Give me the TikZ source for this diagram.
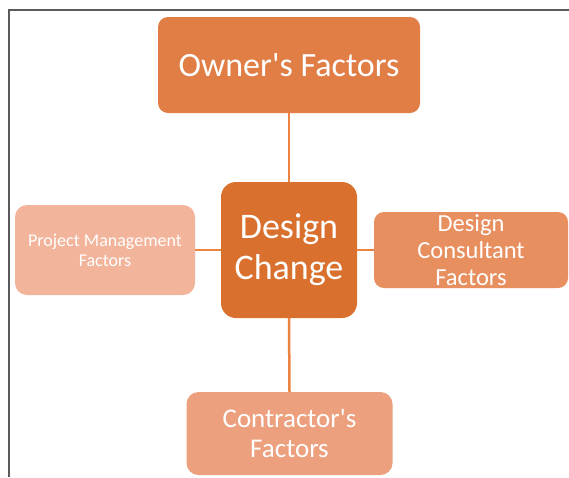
\documentclass[tikz,border=0pt]{standalone}
\usepackage{fontspec}
\setmainfont{Carlito}
\definecolor{cOwner}{HTML}{E07E45}
\definecolor{cCenter}{HTML}{D9702E}
\definecolor{cPM}{HTML}{F2B49B}
\definecolor{cDC}{HTML}{E88F60}
\definecolor{cCon}{HTML}{ECA07E}
\definecolor{cLine}{HTML}{EC8440}
\definecolor{cFrame}{HTML}{5A5A5A}
\begin{document}
\begin{tikzpicture}[x=1pt,y=-1pt,
  fbox/.style={rectangle,rounded corners=#1,text=white,align=center,inner sep=0pt,draw=none},
  link/.style={draw=cLine,line width=2.5pt}]
\useasboundingbox (0,0) rectangle (569,477);
\fill[white] (0,0) rectangle (569,477);
\draw[cFrame,line width=2pt] (9,477) -- (9,10) -- (569,10);
\node[fbox=10pt,fill=cOwner,minimum width=262pt,minimum height=96pt,font=\fontsize{34}{40}\selectfont] (own) at (289,65) {Owner\textquotesingle s Factors};
\node[fbox=15pt,fill=cCenter,minimum width=136pt,minimum height=136pt,font=\fontsize{36}{41}\selectfont] (dc) at (289,250) {Design\\Change};
\node[fbox=12pt,fill=cPM,minimum width=180pt,minimum height=90pt,font=\fontsize{18}{20}\selectfont] (pm) at (105,250) {Project Management\\Factors};
\node[fbox=10pt,fill=cDC,minimum width=194pt,minimum height=76pt,font=\fontsize{24.5}{27}\selectfont] (cons) at (471,250) {Design\\Consultant\\Factors};
\node[fbox=12pt,fill=cCon,minimum width=206pt,minimum height=83pt,font=\fontsize{27}{30}\selectfont] (con) at (289.5,433.5) {Contractor\textquotesingle s\\Factors};
\draw[link] (own.south) -- (dc.north);
\draw[link] (dc.south) -- (con.north);
\draw[link] (pm.east) -- (dc.west);
\draw[link] (dc.east) -- (cons.west);
\end{tikzpicture}
\end{document}
